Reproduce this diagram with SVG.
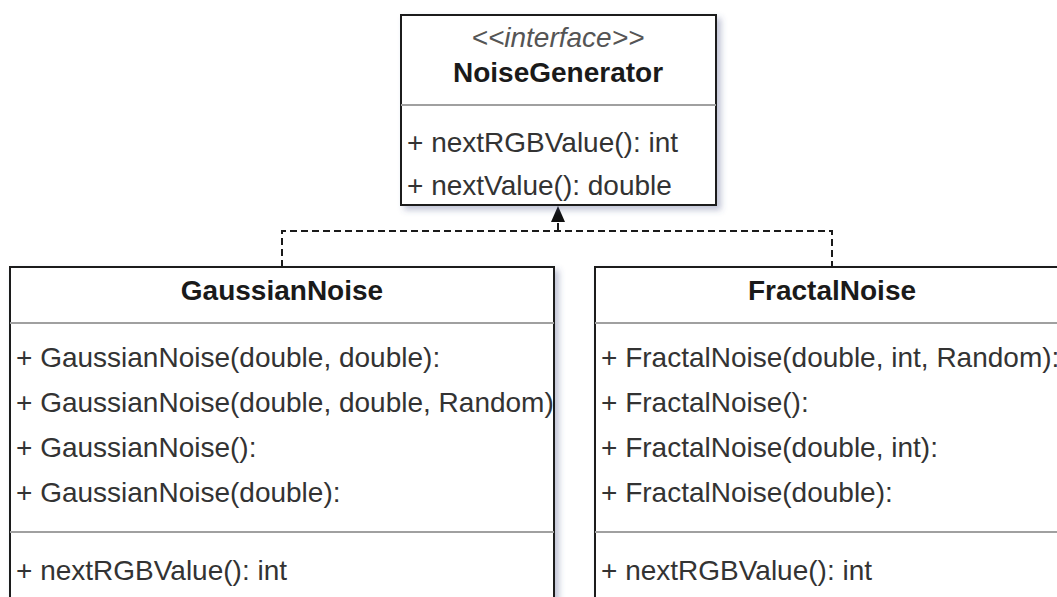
<svg xmlns="http://www.w3.org/2000/svg" width="1057" height="597" viewBox="0 0 1057 597">
  <style>
    .box { fill: #ffffff; stroke: #1a1a1a; stroke-width: 2; }
    .div { stroke: #a0a0a0; stroke-width: 2; fill: none; }
    .hdr { font-family: "Liberation Sans", Arial, sans-serif; font-size: 28px; font-weight: bold; fill: #1a1a1a; text-anchor: middle; }
    .ster { font-family: "Liberation Sans", Arial, sans-serif; font-size: 28px; font-style: italic; fill: #555555; text-anchor: middle; }
    .mem { font-family: "Liberation Sans", Arial, sans-serif; font-size: 28px; fill: #333333; }
    .dash { stroke: #1a1a1a; stroke-width: 2; fill: none; stroke-dasharray: 7 4; }
  </style>
  <defs>
    <filter id="shadow" x="-5%" y="-5%" width="115%" height="115%">
      <feDropShadow dx="4" dy="4" stdDeviation="3" flood-color="#4a5288" flood-opacity="0.35"/>
    </filter>
    <marker id="arrow" viewBox="0 0 16 14" refX="16" refY="7" markerWidth="16" markerHeight="14" markerUnits="userSpaceOnUse" orient="auto">
      <path d="M0,0 L16,7 L0,14 Z" fill="#111111"/>
    </marker>
  </defs>

  <g id="connectors">
    <path class="dash" d="M282,267 L282,231 L832,231 L832,267"/>
    <path d="M558,231 L558,223" stroke="#1a1a1a" stroke-width="2" fill="none"/>
    <path d="M558,223 L558,206" stroke="none" fill="none" marker-end="url(#arrow)"/>
  </g>

  <g id="NoiseGenerator">
    <rect class="box" x="401" y="15" width="315" height="190" filter="url(#shadow)"/>
    <line class="div" x1="401" y1="105" x2="716" y2="105"/>
    <text class="ster" x="558" y="47">&lt;&lt;interface&gt;&gt;</text>
    <text class="hdr" x="558" y="82">NoiseGenerator</text>
    <text class="mem" x="407" y="152">+ nextRGBValue(): int</text>
    <text class="mem" x="407" y="195">+ nextValue(): double</text>
  </g>

  <g id="GaussianNoise">
    <rect class="box" x="10" y="267" width="544" height="345" filter="url(#shadow)"/>
    <line class="div" x1="10" y1="323" x2="554" y2="323"/>
    <line class="div" x1="10" y1="532" x2="554" y2="532"/>
    <text class="hdr" x="282" y="300">GaussianNoise</text>
    <text class="mem" x="16" y="367">+ GaussianNoise(double, double):</text>
    <text class="mem" x="16" y="412">+ GaussianNoise(double, double, Random)</text>
    <text class="mem" x="16" y="457">+ GaussianNoise():</text>
    <text class="mem" x="16" y="502">+ GaussianNoise(double):</text>
    <text class="mem" x="16" y="580">+ nextRGBValue(): int</text>
  </g>

  <g id="FractalNoise">
    <rect class="box" x="595" y="267" width="474" height="345" filter="url(#shadow)"/>
    <line class="div" x1="595" y1="323" x2="1069" y2="323"/>
    <line class="div" x1="595" y1="532" x2="1069" y2="532"/>
    <text class="hdr" x="832" y="300">FractalNoise</text>
    <text class="mem" x="601" y="367">+ FractalNoise(double, int, Random):</text>
    <text class="mem" x="601" y="412">+ FractalNoise():</text>
    <text class="mem" x="601" y="457">+ FractalNoise(double, int):</text>
    <text class="mem" x="601" y="502">+ FractalNoise(double):</text>
    <text class="mem" x="601" y="580">+ nextRGBValue(): int</text>
  </g>
</svg>
